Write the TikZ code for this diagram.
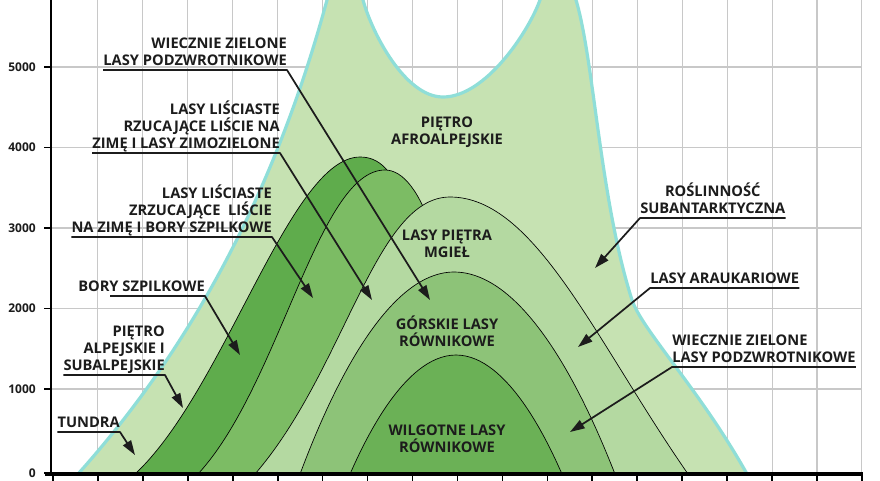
\documentclass[tikz,border=0pt]{standalone}
\usepackage{fontspec}
\setmainfont{Open Sans}
\usetikzlibrary{arrows.meta}
\usepackage{xcolor}
\definecolor{zoneTop}{HTML}{C6E2B2}
\definecolor{zoneEdge}{HTML}{8FDED8}
\definecolor{zoneBory}{HTML}{5FAC4C}
\definecolor{zoneLisc}{HTML}{7CBC64}
\definecolor{zoneMgiel}{HTML}{B4D9A1}
\definecolor{zoneGorskie}{HTML}{8DC378}
\definecolor{zoneWilg}{HTML}{6BB156}
\definecolor{gridGray}{HTML}{C8C8C8}
\definecolor{inkDark}{HTML}{1C1C1C}

\begin{document}
\begin{tikzpicture}[
    x=0.75pt, y=-0.75pt,
    every node/.style={font=\bfseries\fontsize{11}{13}\selectfont, text=inkDark},
    zone label/.style={align=center, inner sep=0pt},
    side label/.style={inner xsep=0pt, inner ysep=3pt, text depth=0pt},
    leader/.style={line width=1.3pt, draw=inkDark, line join=round,
      -{Triangle[length=11pt, width=7pt]}},
    band/.style={draw=black, line width=0.5pt},
    grid line/.style={draw=gridGray, line width=0.8pt},
    axis label/.style={font=\bfseries\fontsize{9}{10}\selectfont,
      anchor=east, inner sep=0pt},
  ]
  \useasboundingbox (0,0) rectangle (880,480);

  % --- Grid ---
  \foreach \i in {1,...,18}
    \draw[grid line] ({53+44.94*\i},0) -- ({53+44.94*\i},474);
  \foreach \yy in {67,147.5,228,308.5,389}
    \draw[grid line] (51,\yy) -- (862,\yy);

  % --- Vegetation zones, outermost first ---
  \begin{scope}
    \clip (0,0) rectangle (880,480);
    % afroalpine belt with both peaks
    \draw[fill=zoneTop, draw=zoneEdge, line width=2.4pt]
      (78,474) .. controls (180,360) and (270,210) .. (327,0)
      .. controls (333,-22) and (357,-22) .. (363,0)
      .. controls (372,33) and (405,97) .. (443,97)
      .. controls (485,97) and (528,33) .. (540,0)
      .. controls (546,-22) and (570,-22) .. (576,0)
      .. controls (594,60) and (600,200) .. (632,300)
      .. controls (642,330) and (700,390) .. (747,474);
    % bory szpilkowe
    \draw[band, fill=zoneBory] (135,474) .. controls (225,390) and (290,157)
      .. (360,157) .. controls (395,157) and (425,200) .. (445,474);
    % lasy lisciaste zrzucajace
    \draw[band, fill=zoneLisc] (198,474) .. controls (280,385) and (318,170)
      .. (385,170) .. controls (420,170) and (455,250) .. (470,474);
    % lasy pietra mgiel
    \draw[band, fill=zoneMgiel] (255,474) .. controls (345,370) and (375,197)
      .. (450,197) .. controls (535,197) and (595,340) .. (688,474);
    % gorskie lasy rownikowe
    \draw[band, fill=zoneGorskie] (300,474) parabola bend (454,272) (615,474);
    % wilgotne lasy rownikowe
    \draw[band, fill=zoneWilg] (350,474) parabola bend (456,355) (562,474);
  \end{scope}

  % --- Axes ---
  \draw[line width=1.5pt] (51,0) -- (51,474);
  \draw[line width=2.4pt] (45,474) -- (863,474);
  \foreach \i in {0,...,18}
    \draw[line width=1.2pt] ({53+44.94*\i},474) -- ({53+44.94*\i},481);
  \foreach \v/\yy in {0/473,1000/389,2000/308.5,3000/228,4000/147.5,5000/67} {
    \draw[line width=1.2pt] (44,\yy) -- (51,\yy);
    \node[axis label] (tick\v) at (36,\yy) {\v};
  }

  % --- Zone names ---
  \node[zone label] (afro) at (447,132) {PIĘTRO\\AFROALPEJSKIE};
  \node[zone label] (mgiel) at (447,244) {LASY PIĘTRA\\MGIEŁ};
  \node[zone label] (gorskie) at (447,331) {GÓRSKIE LASY\\RÓWNIKOWE};
  \node[zone label] (wilg) at (447,439) {WILGOTNE LASY\\RÓWNIKOWE};

  % --- Left side labels ---
  \coordinate (wzLeftTip) at (430,300);
  \coordinate (rzTip) at (372,300);
  \coordinate (zrzTip) at (313,298);
  \coordinate (boryTip) at (240,355);
  \coordinate (boryLead) at (110,296);
  \coordinate (alpTip) at (183,408);
  \coordinate (tundraTip) at (135,455);

  \node[side label, align=right, anchor=south east] (wzLeft) at (287,70)
    {WIECZNIE ZIELONE\\LASY PODZWROTNIKOWE};
  \draw[leader] (wzLeft.south west) -- (wzLeft.south east) -- (wzLeftTip);

  \node[side label, align=right, anchor=south east] (rz) at (280,153)
    {LASY LIŚCIASTE\\RZUCAJĄCE LIŚCIE NA\\ZIMĘ I LASY ZIMOZIELONE};
  \draw[leader] (rz.south west) -- (rz.south east) -- (rzTip);

  \node[side label, align=right, anchor=south east] (zrz) at (272,237)
    {LASY LIŚCIASTE\\ZRZUCAJĄCE~ LIŚCIE\\NA ZIMĘ I BORY SZPILKOWE};
  \draw[leader] (zrz.south west) -- (zrz.south east) -- (zrzTip);

  \node[side label, anchor=south east] (bory) at (205,296) {BORY SZPILKOWE};
  \draw[leader] (boryLead) -- (bory.south east) -- (boryTip);

  \node[side label, align=right, anchor=south east] (alp) at (165,375)
    {PIĘTRO\\ALPEJSKIE I\\SUBALPEJSKIE};
  \draw[leader] (alp.south west) -- (alp.south east) -- (alpTip);

  \node[side label, anchor=south east] (tundra) at (120,432) {TUNDRA};
  \draw[leader] (tundra.south west) -- (tundra.south east) -- (tundraTip);

  % --- Right side labels ---
  \coordinate (subantTip) at (595,268);
  \coordinate (araukTip) at (578,347);
  \coordinate (wzRightTip) at (570,432);

  \node[side label, align=center, anchor=south west] (subant) at (640,218)
    {ROŚLINNOŚĆ\\SUBANTARKTYCZNA};
  \draw[leader] (subant.south east) -- (subant.south west) -- (subantTip);

  \node[side label, anchor=south west] (arauk) at (650,288) {LASY ARAUKARIOWE};
  \draw[leader] (arauk.south east) -- (arauk.south west) -- (araukTip);

  \node[side label, align=left, anchor=south west] (wzRight) at (672,367)
    {WIECZNIE ZIELONE\\LASY PODZWROTNIKOWE};
  \draw[leader] (wzRight.south east) -- (wzRight.south west) -- (wzRightTip);

\end{tikzpicture}
\end{document}
